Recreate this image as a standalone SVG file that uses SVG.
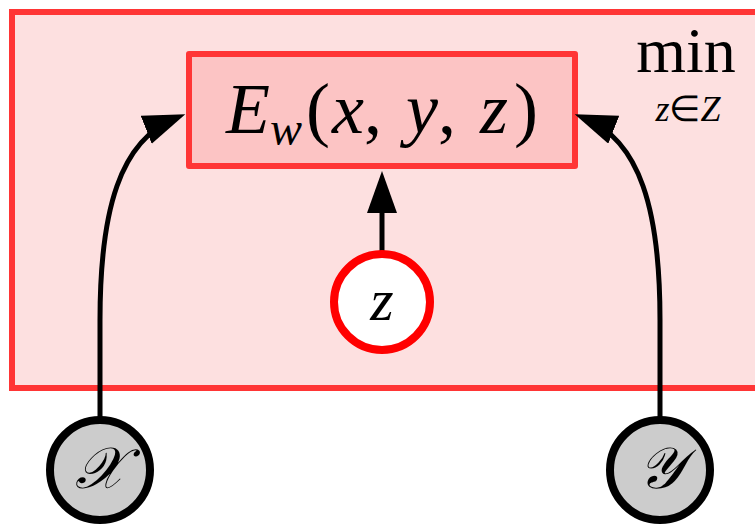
<svg xmlns="http://www.w3.org/2000/svg" width="755" height="527" viewBox="0 0 755 527">
<style>
.m{font-family:"Liberation Serif",serif;fill:#000}
.i{font-style:italic}
.conn{fill:none;stroke:#000;stroke-width:5}
</style>
<defs>
<marker id="ah" markerUnits="userSpaceOnUse" markerWidth="44" markerHeight="34" refX="32" refY="15" orient="auto">
<path d="M0,0 L42,15 L0,30 Z" fill="#000"/>
</marker>
</defs>
<rect width="755" height="527" fill="#fff"/>
<g id="frame">
<rect x="12" y="12" width="760" height="376" fill="#fde0e0" stroke="#ff3535" stroke-width="6"/>
<text class="m" x="686" y="72" font-size="64" text-anchor="middle">min</text>
<text class="m" x="688" y="121" font-size="36" text-anchor="middle"><tspan class="i">z</tspan>∈<tspan class="i">Z</tspan></text>
</g>
<g id="energy">
<rect x="189" y="54" width="386" height="112" fill="#fcc4c4" stroke="#ff3535" stroke-width="6" stroke-linejoin="round"/>
<text class="m" x="382" y="133" font-size="72" text-anchor="middle"><tspan class="i">E</tspan><tspan class="i" font-size="48" dy="12">w</tspan><tspan dy="-12" dx="4">(</tspan><tspan class="i" dx="2">x</tspan>, <tspan class="i" dx="6">y</tspan>, <tspan class="i" dx="6">z</tspan><tspan dx="6">)</tspan></text>
</g>
<g id="connectors">
<path class="conn" d="M100,420 L100,320 C100,210 120,140 176,118" marker-end="url(#ah)"/>
<path class="conn" d="M660,420 L660,320 C660,210 640,140 584,118" marker-end="url(#ah)"/>
<path class="conn" d="M382,254 L382,181" marker-end="url(#ah)"/>
</g>
<g id="z">
<circle cx="382" cy="302" r="48" fill="#fff" stroke="#ff0000" stroke-width="8"/>
<text class="m i" x="382" y="320" font-size="60" text-anchor="middle">z</text>
</g>
<g id="x">
<circle cx="100" cy="470" r="50" fill="#cccccc" stroke="#000" stroke-width="8"/>
<text class="m i" x="100" y="488" font-size="58" text-anchor="middle">𝒳</text>
</g>
<g id="y">
<circle cx="660" cy="470" r="50" fill="#cccccc" stroke="#000" stroke-width="8"/>
<text class="m i" x="660" y="488" font-size="58" text-anchor="middle">𝒴</text>
</g>
</svg>
